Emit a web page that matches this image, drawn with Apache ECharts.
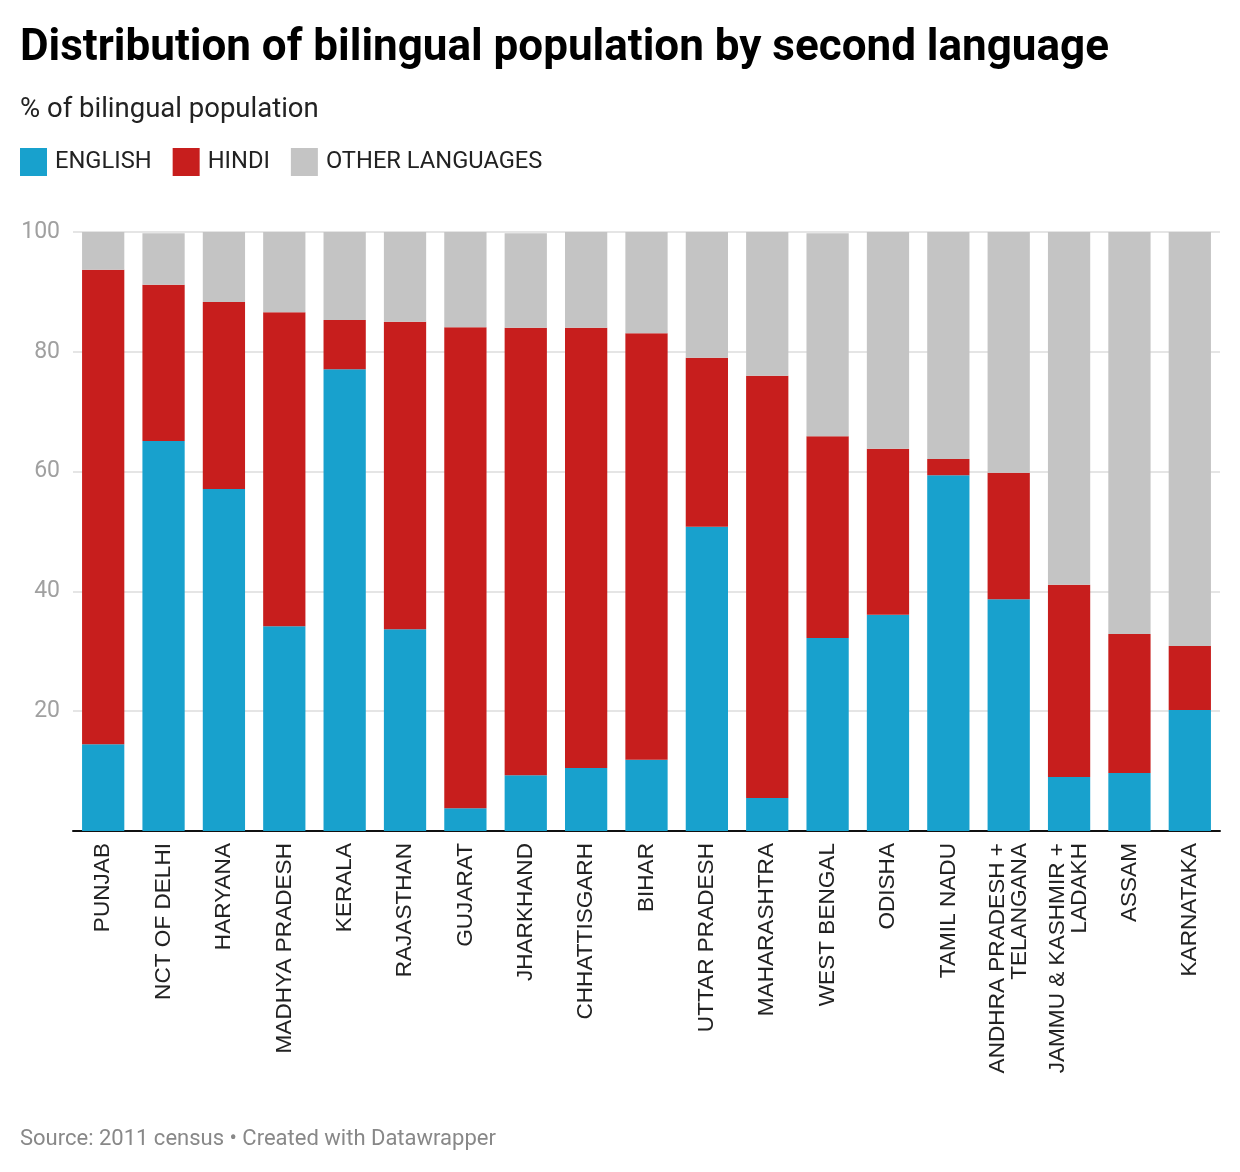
<!DOCTYPE html>
<html>
<head>
<meta charset="utf-8">
<script src="https://cdn.jsdelivr.net/npm/echarts@6/dist/echarts.min.js"></script>
<style>
  html, body { margin: 0; padding: 0; background: #fff; }
  #chart { width: 1240px; height: 1172px; }
</style>
</head>
<body>
<div id="chart"></div>
<script>
const states = [
  'PUNJAB', 'NCT OF DELHI', 'HARYANA', 'MADHYA PRADESH', 'KERALA', 'RAJASTHAN',
  'GUJARAT', 'JHARKHAND', 'CHHATTISGARH', 'BIHAR', 'UTTAR PRADESH', 'MAHARASHTRA',
  'WEST BENGAL', 'ODISHA', 'TAMIL NADU', 'ANDHRA PRADESH +\nTELANGANA',
  'JAMMU & KASHMIR +\nLADAKH', 'ASSAM', 'KARNATAKA'
];
const english = [14.5, 65.1, 57.1, 34.2, 77.1, 33.7, 3.8, 9.3, 10.5, 11.9, 50.8, 5.5, 32.2, 36.1, 59.4, 38.7, 9.0, 9.7, 20.2];
const hindi   = [79.2, 26.1, 31.2, 52.4, 8.2, 51.3, 80.3, 74.7, 73.5, 71.2, 28.2, 70.5, 33.7, 27.7, 2.7, 21.1, 32.1, 23.2, 10.7];
const other   = [6.3, 8.6, 11.7, 13.4, 14.7, 15.0, 15.9, 15.8, 16.0, 16.9, 21.0, 24.0, 33.9, 36.2, 37.9, 40.2, 58.9, 67.1, 69.1];
const yTicks = [0, 20, 40, 60, 80, 100];

const colors = { english: '#18a1cd', hindi: '#c71e1d', other: '#c4c4c4' };

const chart = echarts.init(document.getElementById('chart'));

const bar = (name, data, color) => ({
  name,
  type: 'bar',
  stack: 'total',
  data,
  barCategoryGap: '30%',
  itemStyle: { color },
  emphasis: { disabled: true }
});

chart.setOption({
  animation: false,
  textStyle: { fontFamily: 'Roboto' },
  title: [
    {
      text: 'Distribution of bilingual population by second language',
      left: 15, top: 22,
      textStyle: { fontSize: 44, fontWeight: 'bold', color: '#000', fontFamily: 'Roboto' }
    },
    {
      text: '% of bilingual population',
      left: 15, top: 91,
      textStyle: { fontSize: 27.5, fontWeight: 'normal', color: '#222', fontFamily: 'Roboto' }
    },
    {
      text: 'Source: 2011 census • Created with Datawrapper',
      left: 15, top: 1123,
      textStyle: { fontSize: 22, fontWeight: 'normal', color: '#888', fontFamily: 'Roboto' }
    }
  ],
  legend: {
    left: 15, top: 143,
    icon: 'rect',
    itemWidth: 27, itemHeight: 28,
    itemGap: 21,
    selectedMode: false,
    textStyle: { fontSize: 23.7, color: '#222', fontFamily: 'Roboto', padding: [0, 0, 0, 3] },
    data: ['ENGLISH', 'HINDI', 'OTHER LANGUAGES']
  },
  grid: { left: 73, right: 20, top: 232, bottom: 341, containLabel: false },
  xAxis: {
    type: 'category',
    data: states,
    axisLine: { lineStyle: { color: '#111', width: 2 } },
    axisTick: { show: false },
    axisLabel: {
      rotate: 90,
      interval: 0,
      margin: 12,
      fontSize: 22.6,
      lineHeight: 22,
      color: '#222',
      fontFamily: 'Liberation Sans'
    }
  },
  yAxis: {
    type: 'value',
    min: yTicks[0], max: yTicks[yTicks.length - 1], interval: 20,
    axisLine: { show: false },
    axisTick: { show: false },
    axisLabel: {
      fontSize: 23, color: '#a0a0a0', margin: 13, fontFamily: 'Roboto',
      formatter: v => (v === 0 ? '' : v)
    },
    splitLine: { lineStyle: { color: '#e5e5e5', width: 2 } }
  },
  series: [
    bar('ENGLISH', english, colors.english),
    bar('HINDI', hindi, colors.hindi),
    bar('OTHER LANGUAGES', other, colors.other)
  ]
});
</script>
</body>
</html>
